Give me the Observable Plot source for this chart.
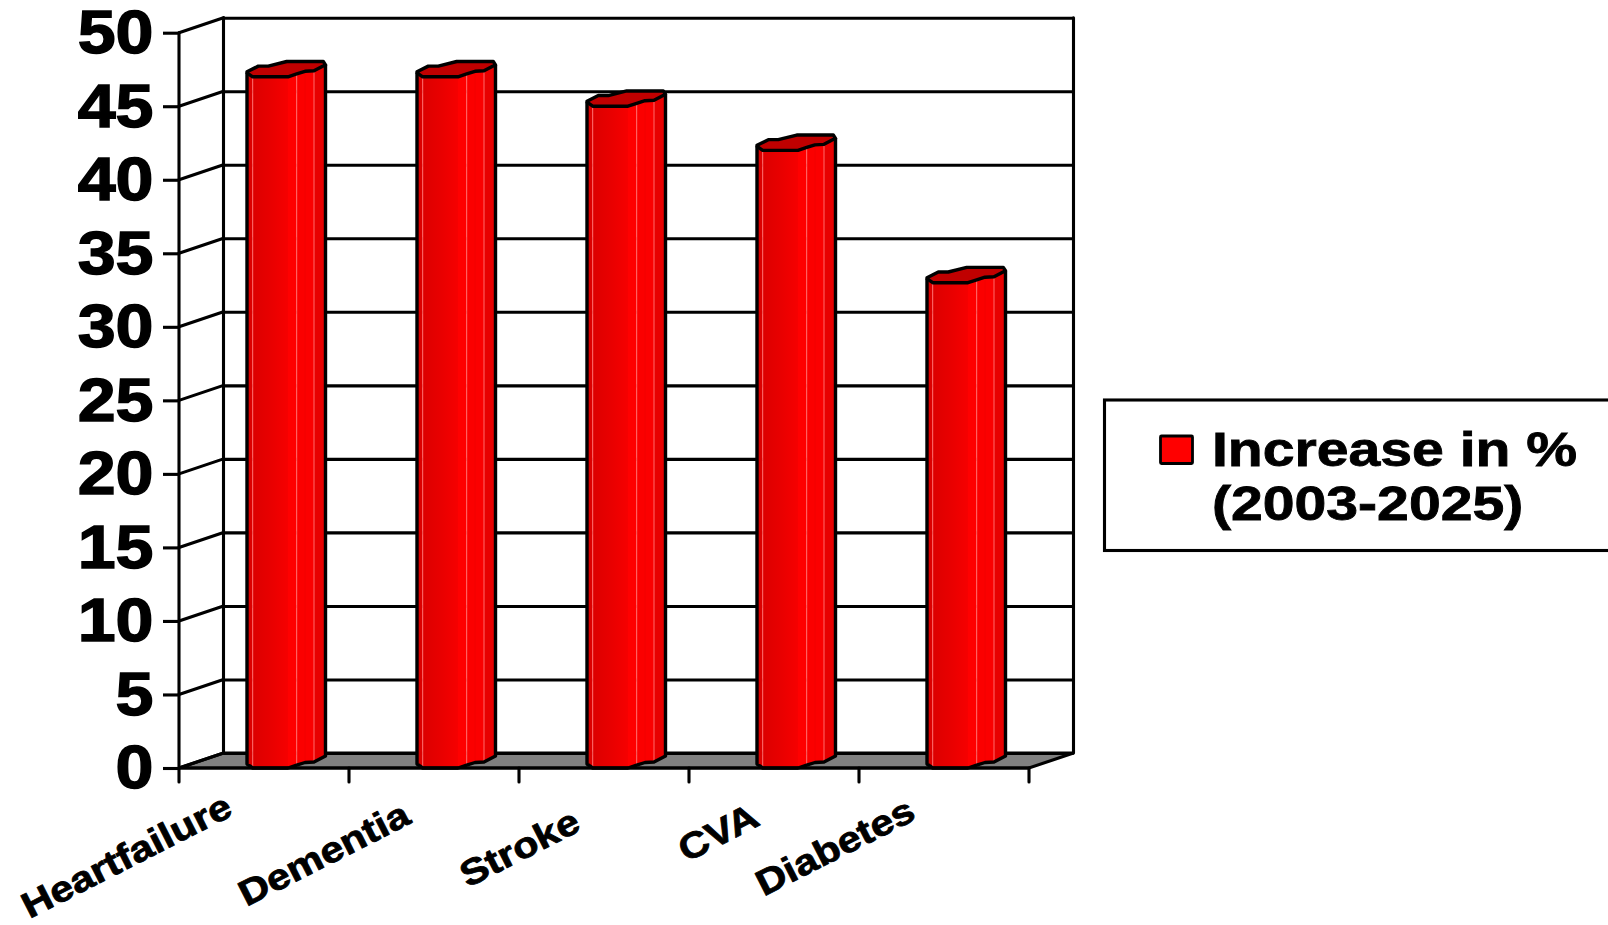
<!DOCTYPE html>
<html>
<head>
<meta charset="utf-8">
<script src="https://cdn.jsdelivr.net/npm/d3@7"></script>
<script src="https://cdn.jsdelivr.net/npm/@observablehq/plot@0.6"></script>
<style>html,body{margin:0;padding:0;background:#fff;overflow:hidden}svg{display:block}</style>
</head>
<body>
<script>
const categories = ["Heartfailure", "Dementia", "Stroke", "CVA", "Diabetes"];
const increase = [47, 47, 45, 42, 33];
const yTicks = [0, 5, 10, 15, 20, 25, 30, 35, 40, 45, 50];
const legendLines = ["Increase in %", "(2003-2025)"];
const labelDx = [-30, -22, -22, -13, -27];
const labelDy = [46, 54, 61, 56, 50];

const rows = categories.map((category, i) => ({category, value: increase[i]}));
const FONT = '"Liberation Sans", Arial, sans-serif';
const depthX = 44.5, depthY = 15, lw = 3.1;
const barStart = 68;
// cross-section of the 3-D column, in pixels relative to its front-left corner
const frontEdge = [[0,-4],[5.7,0],[41,0],[49.7,-2.9],[58,-5.5],[67,-6],[78.5,-12]];
const backEdge = [[0,-5],[11.3,-10.7],[21.3,-10.7],[39.7,-15.3],[76.3,-15.3],[78.5,-12]];
const facetFill = ["#dc0000", null, "#ff0000", "#fb0000", "#fb0000", "#e80000"];

const pts = a => a.map(p => p.join(",")).join(" ");
const line = (g, x1, y1, x2, y2) => g.append("line")
  .attr("x1", x1).attr("y1", y1).attr("x2", x2).attr("y2", y2)
  .attr("stroke", "#000").attr("stroke-width", lw).attr("stroke-linecap", "round");

const defsMark = () => {
  const g = d3.create("svg:defs");
  const grad = g.append("linearGradient").attr("id", "barFront");
  [["0", "#dc0000"], ["0.5", "#e80000"], ["1", "#f60000"]].forEach(([o, c]) =>
    grad.append("stop").attr("offset", o).attr("stop-color", c));
  return g.node();
};

const wallsMark = (index, {x, y}) => {
  const g = d3.create("svg:g");
  const bw = x.bandwidth();
  const x0 = x(categories[0]), x1 = x0 + bw * categories.length, y0 = y(0);
  g.append("polygon")
    .attr("points", pts([[x0,y0],[x0+depthX,y0-depthY],[x1+depthX,y0-depthY],[x1,y0]]))
    .attr("fill", "#808080").attr("stroke", "#000").attr("stroke-width", lw);
  line(g, x0+depthX, y(50)-depthY, x0+depthX, y0-depthY);
  line(g, x1+depthX, y(50)-depthY, x1+depthX, y0-depthY);
  for (const t of yTicks) line(g, x0, y(t), x0+depthX, y(t)-depthY);
  return g.node();
};

const columnsMark = (index, {x, y}) => {
  const g = d3.create("svg:g");
  const y0 = y(0);
  for (const r of rows) {
    const L = x(r.category) + barStart, T = y(r.value);
    const at = (p, base) => [L + p[0], base + p[1]];
    frontEdge.slice(0, -1).forEach((p, i) => {
      if (!facetFill[i]) return;
      const q = frontEdge[i + 1];
      g.append("polygon").attr("points", pts([at(p,T), at(q,T), at(q,y0), at(p,y0)])).attr("fill", facetFill[i]);
    });
    [1, 3, 4, 5].forEach(i => {
      const p = frontEdge[i];
      g.append("line").attr("x1", L+p[0]).attr("x2", L+p[0]).attr("y1", T+p[1]).attr("y2", y0+p[1])
        .attr("stroke", i === 4 ? "#f20000" : "#ff6a6a").attr("stroke-width", 1);
    });
    g.append("polygon").attr("points", pts([...backEdge.map(p => at(p,T)), ...frontEdge.slice().reverse().map(p => at(p,T))]))
      .attr("fill", "#c00000").attr("stroke", "#000").attr("stroke-width", 3.4).attr("stroke-linejoin", "round");
    const outline = [at(frontEdge[0],T), ...frontEdge.map(p => at(p,y0)), at(frontEdge[frontEdge.length-1],T)];
    g.append("polyline").attr("points", pts(outline)).attr("fill", "none")
      .attr("stroke", "#000").attr("stroke-width", 3.4).attr("stroke-linejoin", "round");
  }
  return g.node();
};

const frontAxisMark = (index, {x, y}) => {
  const g = d3.create("svg:g");
  const bw = x.bandwidth();
  const x0 = x(categories[0]), y0 = y(0);
  line(g, x0, y(50), x0, y0 + 14);
  line(g, x0, y0, x0 + bw * categories.length, y0);
  d3.range(1, categories.length + 1).forEach(i => line(g, x0 + bw*i, y0, x0 + bw*i, y0 + 14));
  return g.node();
};

const legendMark = () => {
  const g = d3.create("svg:g");
  g.append("rect").attr("x", 1104.5).attr("y", 400).attr("width", 560).attr("height", 150.5)
    .attr("fill", "#fff").attr("stroke", "#000").attr("stroke-width", lw);
  g.append("rect").attr("x", 1160.5).attr("y", 436).attr("width", 32).attr("height", 27.5)
    .attr("fill", "#ff0000").attr("stroke", "#000").attr("stroke-width", 2.8).attr("rx", 1);
  legendLines.forEach((t, i) => g.append("text").attr("class", "legend-line")
    .attr("x", 1212).attr("y", 466 + i * 54).attr("text-anchor", "start")
    .attr("font-family", FONT).attr("font-weight", "bold").attr("font-size", 48)
    .attr("fill", "#000").attr("stroke", "#000").attr("stroke-width", 0.8)
    .text(t));
  return g.node();
};

const chart = Plot.plot({
  width: 1608, height: 925,
  marginLeft: 179, marginRight: 579, marginTop: 32.7, marginBottom: 157,
  style: {fontFamily: FONT, background: "#fff", overflow: "visible"},
  x: {domain: categories, padding: 0, axis: null},
  y: {domain: [0, 50], axis: null},
  marks: [
    defsMark,
    wallsMark,
    Plot.ruleY(yTicks, {y: d => d, dx: depthX, dy: -depthY, stroke: "#000", strokeWidth: lw}),
    Plot.barY(rows, {
      x: "category", y: "value", fill: "url(#barFront)",
      insetLeft: barStart + 5.7, insetRight: 170 - barStart - 41
    }),
    columnsMark,
    frontAxisMark,
    Plot.axisY({
      ticks: yTicks, tickSize: 16, tickPadding: 10, strokeWidth: lw,
      fontSize: 62, fontWeight: "bold", fill: "#000", stroke: "#000",
      tickFormat: d => String(d), label: null
    }),
    ...categories.map((c, i) => Plot.text([c], {
      x: d => d, y: () => 0, text: d => d,
      dx: labelDx[i], dy: labelDy[i],
      rotate: -27, textAnchor: "end", lineAnchor: "bottom",
      fontSize: 36, fontWeight: "bold", fill: "#000", stroke: "#000", strokeWidth: 0.8
    })),
    legendMark
  ]
});
document.body.appendChild(chart);

const stretch = (sel, k) => sel.each(function () {
  this.setAttribute("textLength", this.getComputedTextLength() * k);
  this.setAttribute("lengthAdjust", "spacingAndGlyphs");
});
const svg = d3.select(chart);
svg.selectAll("text").filter(function () { return this.getAttribute("class") !== "legend-line" && /^\d+$/.test(this.textContent); })
  .call(stretch, 1.1).attr("stroke", "#000").attr("stroke-width", 1.4);
svg.selectAll("text").filter(function () { return categories.includes(this.textContent); }).call(stretch, 1.15);
svg.selectAll("text.legend-line").call(stretch, 1.19);
</script>
</body>
</html>
